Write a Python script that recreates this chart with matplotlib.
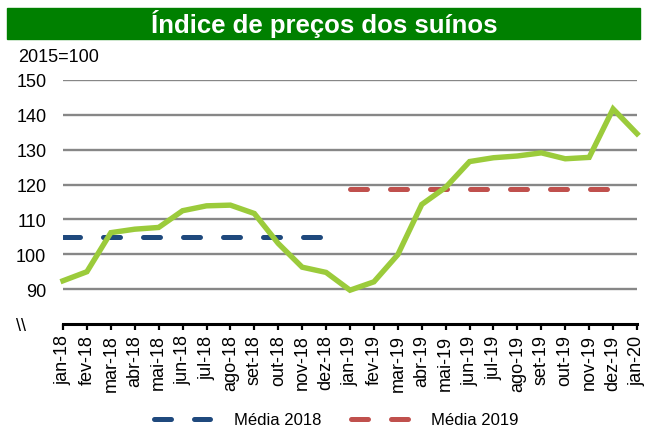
import matplotlib
matplotlib.use("Agg")
import matplotlib.pyplot as plt
from matplotlib import font_manager
from matplotlib.patches import Rectangle

# fonte parecida com Arial
nomes = {f.name for f in font_manager.fontManager.ttflist}
if "Liberation Sans Narrow" in nomes:
    fonte = "Liberation Sans Narrow"
else:
    fonte = "Liberation Sans"
plt.rcParams["font.family"] = [fonte, "DejaVu Sans"]

# dados (2015=100)
meses = ["jan-18", "fev-18", "mar-18", "abr-18", "mai-18", "jun-18",
         "jul-18", "ago-18", "set-18", "out-18", "nov-18", "dez-18",
         "jan-19", "fev-19", "mar-19", "abr-19", "mai-19", "jun-19",
         "jul-19", "ago-19", "set-19", "out-19", "nov-19", "dez-19",
         "jan-20"]
indice = [92.4, 95.0, 106.2, 107.2, 107.7, 112.5, 113.9, 114.1, 111.7,
          103.1, 96.3, 94.8, 89.7, 92.1, 99.9, 114.3, 119.2, 126.6,
          127.7, 128.2, 129.1, 127.4, 127.8, 141.7, 134.6]
media_2018 = 105.0
media_2019 = 118.8
yticks = [80, 90, 100, 110, 120, 130, 140, 150]
ytick_labels = ["\\\\    ", "90", "100", "110", "120", "130", "140", "150"]

verde = "#9BCB3B"
azul = "#1F497D"
vermelho = "#C0504D"

fig = plt.figure(figsize=(6.46, 4.31), dpi=100)
ax = fig.add_axes([63 / 646, 1 - 325 / 431, 574 / 646, 244 / 431])

x = list(range(len(meses)))
for y in yticks[1:]:
    ax.axhline(y, color="#878787", lw=1.7, zorder=1)

tracos = (3.4, 4.6)
l18, = ax.plot(x[:12], [media_2018] * 12, color=azul, lw=3.6,
               dashes=tracos, dash_capstyle="round", zorder=2,
               label="Média 2018")
l19, = ax.plot(x[12:24], [media_2019] * 12, color=vermelho, lw=3.6,
               dashes=tracos, dash_capstyle="round", zorder=2,
               label="Média 2019")
ax.plot(x, indice, color=verde, lw=3.9, solid_joinstyle="miter",
        zorder=3, clip_on=False)

ax.set_xlim(0, 24)
ax.set_ylim(80, 150)
ax.set_xticks(x)
ax.set_xticklabels(meses, rotation=90, fontsize=13)
ax.set_yticks(yticks)
ax.set_yticklabels(ytick_labels, fontsize=13)

for s in ["left", "right", "top"]:
    ax.spines[s].set_visible(False)
ax.spines["bottom"].set_linewidth(2.2)
ax.spines["bottom"].set_color("black")
ax.spines["bottom"].set_zorder(4)
ax.tick_params(axis="x", length=4.5, width=1.6, color="black", pad=3)
ax.tick_params(axis="y", length=0, pad=12)

leg = fig.legend(handles=[l18, l19], loc="center", ncol=2,
                 bbox_to_anchor=(336 / 646, 1 - 421 / 431), frameon=False,
                 fontsize=12, handlelength=3.4, handletextpad=1.4,
                 columnspacing=1.8)

# faixa verde do título
fig.patches.append(Rectangle((7 / 646, 1 - 40 / 431), 633 / 646, 31 / 431,
                             transform=fig.transFigure, color="#008000",
                             zorder=0))
fig.text(324 / 646, 1 - 24.5 / 431, "Índice de preços dos suínos",
         color="white", fontsize=18.5, fontweight="bold",
         ha="center", va="center")
fig.text(18 / 646, 1 - 57 / 431, "2015=100", fontsize=13,
         ha="left", va="center")

fig.savefig("out.png", dpi=100)
